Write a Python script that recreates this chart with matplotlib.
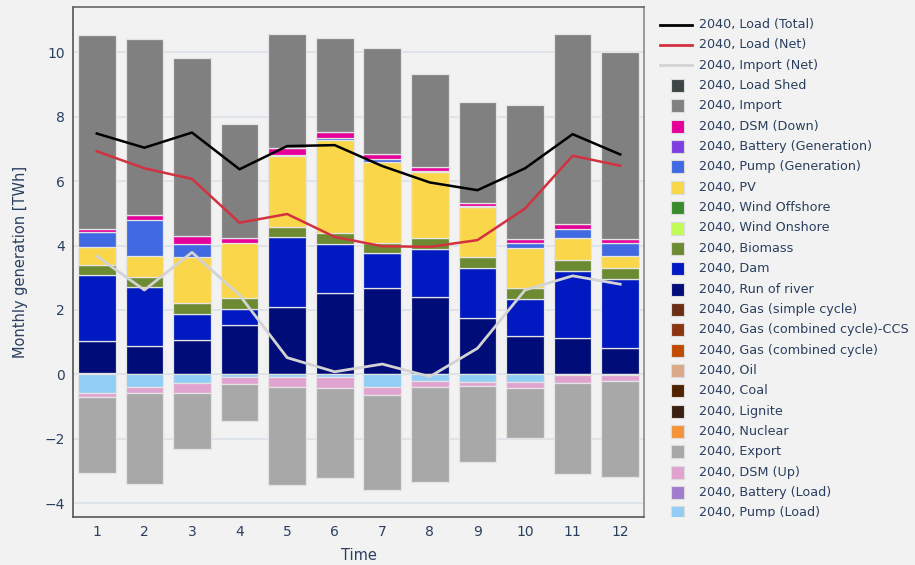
import matplotlib
matplotlib.use("Agg")
import matplotlib.pyplot as plt
import numpy as np

# Monthly energy balance, 2040 scenario (TWh)
months = [1, 2, 3, 4, 5, 6, 7, 8, 9, 10, 11, 12]

# Generation side (stacked upwards, bottom to top)
oil = [0.03, 0, 0, 0, 0, 0, 0, 0, 0, 0, 0, 0]
run_of_river = [1.00, 0.88, 1.07, 1.52, 2.10, 2.53, 2.68, 2.39, 1.76, 1.19, 1.12, 0.83]
dam = [2.05, 1.82, 0.82, 0.51, 2.17, 1.52, 1.08, 1.51, 1.55, 1.14, 2.10, 2.12]
biomass = [0.32, 0.33, 0.33, 0.34, 0.31, 0.33, 0.31, 0.32, 0.32, 0.34, 0.33, 0.34]
pv = [0.56, 0.64, 1.43, 1.70, 2.19, 2.91, 2.52, 2.06, 1.58, 1.25, 0.67, 0.38]
pump_gen = [0.45, 1.14, 0.40, 0, 0.04, 0.04, 0.09, 0.04, 0.03, 0.17, 0.28, 0.42]
dsm_down = [0.10, 0.14, 0.24, 0.15, 0.23, 0.20, 0.16, 0.13, 0.07, 0.11, 0.17, 0.11]
imports = [6.04, 5.46, 5.55, 3.57, 3.52, 2.92, 3.29, 2.88, 3.15, 4.18, 5.89, 5.80]

# Consumption side (stacked downwards, from zero)
pump_load = [0.57, 0.38, 0.28, 0.08, 0.08, 0.08, 0.40, 0.20, 0.23, 0.23, 0.02, 0.02]
dsm_up = [0.13, 0.19, 0.29, 0.22, 0.30, 0.34, 0.24, 0.20, 0.12, 0.20, 0.24, 0.20]
exports = [2.36, 2.82, 1.76, 1.14, 3.06, 2.81, 2.95, 2.93, 2.36, 1.54, 2.82, 2.98]

# Line series
load_total = [7.48, 7.04, 7.51, 6.37, 7.09, 7.12, 6.47, 5.96, 5.72, 6.40, 7.46, 6.83]
load_net = [6.93, 6.40, 6.07, 4.71, 4.98, 4.27, 3.98, 3.96, 4.17, 5.15, 6.79, 6.48]
import_net = [3.67, 2.62, 3.79, 2.46, 0.52, 0.08, 0.32, -0.07, 0.81, 2.62, 3.06, 2.80]

y_ticks = [-4, -2, 0, 2, 4, 6, 8, 10]

colors = {
    "Load Shed": "#3d4545",
    "Import": "#808080",
    "DSM (Down)": "#e6009a",
    "Battery (Generation)": "#7f3fe0",
    "Pump (Generation)": "#4169e1",
    "PV": "#fad74a",
    "Wind Offshore": "#3b8a2e",
    "Wind Onshore": "#c0fc56",
    "Biomass": "#6b8a31",
    "Dam": "#0019c0",
    "Run of river": "#000c78",
    "Gas (simple cycle)": "#6a2f14",
    "Gas (combined cycle)-CCS": "#8a3510",
    "Gas (combined cycle)": "#c04a00",
    "Oil": "#dba888",
    "Coal": "#4f2300",
    "Lignite": "#3a2010",
    "Nuclear": "#f5933a",
    "Export": "#a8a8a8",
    "DSM (Up)": "#e0a2cf",
    "Battery (Load)": "#a07ccf",
    "Pump (Load)": "#92cdf6",
}

BG = "#f2f2f2"
TXT = "#2a3f5f"

fig = plt.figure(figsize=(9.15, 5.65), dpi=100, facecolor=BG)
W, H = 915, 565
ax = fig.add_axes([73 / W, (H - 517) / H, (644 - 73) / W, (517 - 7) / H])
ax.set_facecolor(BG)

x = np.array(months, dtype=float)
bw = 0.79
edge = dict(edgecolor="#e4e4e4", linewidth=0.9, zorder=3)

pos_stack = [
    ("Oil", oil), ("Run of river", run_of_river), ("Dam", dam),
    ("Biomass", biomass), ("PV", pv), ("Pump (Generation)", pump_gen),
    ("DSM (Down)", dsm_down), ("Import", imports),
]
neg_stack = [("Pump (Load)", pump_load), ("DSM (Up)", dsm_up), ("Export", exports)]

base = np.zeros(len(months))
for name, vals in pos_stack:
    v = np.array(vals, dtype=float)
    m = v > 0
    ax.bar(x[m], v[m], bw, bottom=base[m], color=colors[name], **edge)
    base += v

base = np.zeros(len(months))
for name, vals in neg_stack:
    v = -np.array(vals, dtype=float)
    m = v < 0
    ax.bar(x[m], v[m], bw, bottom=base[m], color=colors[name], **edge)
    base += v

ax.plot(x, import_net, color="#d3d3d3", lw=2.0, zorder=4)
ax.plot(x, load_net, color="#d2323f", lw=1.8, zorder=5)
ax.plot(x, load_total, color="black", lw=1.8, zorder=6)

ax.set_xlim(0.5, 12.5)
ax.set_ylim(-4.43, 11.41)
ax.set_xticks(months)
ax.set_yticks(y_ticks)
ax.yaxis.grid(True, color="#dbe0e8", lw=1.2, zorder=0)
ax.set_axisbelow(True)
ax.tick_params(length=0, colors=TXT, labelsize=10, pad=6)
for lab in ax.get_xticklabels() + ax.get_yticklabels():
    lab.set_color(TXT)
for s in ax.spines.values():
    s.set_color("#555555")
    s.set_linewidth(1.2)
ax.spines["right"].set_color("#8a8a8a")
ax.spines["top"].set_color("#666666")

ax.set_xlabel("Time", color=TXT, fontsize=10.5, labelpad=6)
ax.set_ylabel("Monthly generation [TWh]", color=TXT, fontsize=10.5, labelpad=12)

# Legend drawn in its own clipped panel
lax = fig.add_axes([655 / W, (H - 517) / H, 260 / W, 510 / H])
lax.set_xlim(655, 915)
lax.set_ylim(517, 7)
lax.axis("off")

legend_lines = [
    ("2040, Load (Total)", "black"),
    ("2040, Load (Net)", "#d2323f"),
    ("2040, Import (Net)", "#d3d3d3"),
]
legend_boxes = [
    "Load Shed", "Import", "DSM (Down)", "Battery (Generation)", "Pump (Generation)",
    "PV", "Wind Offshore", "Wind Onshore", "Biomass", "Dam", "Run of river",
    "Gas (simple cycle)", "Gas (combined cycle)-CCS", "Gas (combined cycle)", "Oil",
    "Coal", "Lignite", "Nuclear", "Export", "DSM (Up)", "Battery (Load)", "Pump (Load)",
]

row0, dy = 24.5, 20.35
i = 0
for label, c in legend_lines:
    yy = row0 + i * dy
    lax.plot([660, 692], [yy, yy], color=c, lw=2.0, clip_on=True)
    lax.text(699, yy, label, color=TXT, fontsize=9.2, va="center", ha="left", clip_on=True)
    i += 1
for name in legend_boxes:
    yy = row0 + i * dy
    lax.add_patch(plt.Rectangle((671, yy - 6.5), 13, 13, facecolor=colors[name],
                                edgecolor="#dcdcdc", lw=0.8, clip_on=True))
    lax.text(699, yy, "2040, " + name, color=TXT, fontsize=9.2, va="center",
             ha="left", clip_on=True)
    i += 1

fig.savefig("out.png", dpi=100, facecolor=BG)
